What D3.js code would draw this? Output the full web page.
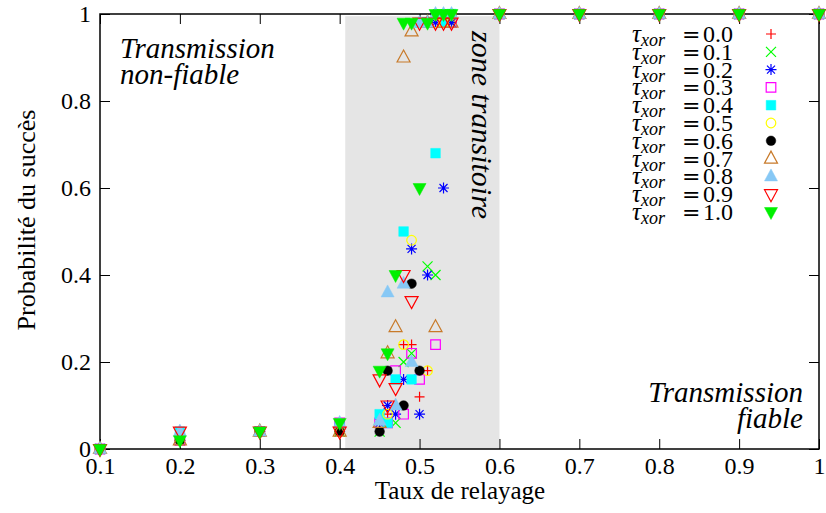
<!DOCTYPE html>
<html><head><meta charset="utf-8">
<script src="https://cdn.jsdelivr.net/npm/d3@7"></script>
<style>
html,body{margin:0;padding:0;background:#fff;}
svg{display:block;font-family:"Liberation Serif","Times New Roman",serif;}
</style></head><body>
<svg id="chart" width="826" height="513"></svg>
<script>
// ---------- data ----------
const relayRates = [0.1, 0.2, 0.3, 0.4, 0.45, 0.46, 0.47, 0.48, 0.49, 0.50, 0.51, 0.52, 0.53, 0.54, 0.6, 0.7, 0.8, 0.9, 1.0];
const tauLabels = ["0.0", "0.1", "0.2", "0.3", "0.4", "0.5", "0.6", "0.7", "0.8", "0.9", "1.0"];
const tau00 = [0, 0.02, 0.04, 0.04, 0.06, 0.08, 0.10, 0.24, 0.24, 0.12, 0.18, 0.98, 0.98, 0.98, 1, 1, 1, 1, 1];
const tau01 = [0, 0.02, 0.04, 0.04, 0.04, 0.06, 0.06, 0.20, 0.22, null, 0.42, 0.40, 0.98, 0.98, 1, 1, 1, 1, 1];
const tau02 = [0, 0.02, 0.04, 0.04, 0.06, 0.10, 0.08, 0.16, 0.46, 0.08, 0.40, 0.98, 0.60, 0.98, 1, 1, 1, 1, 1];
const tau03 = [0, 0.02, 0.04, 0.06, 0.06, 0.06, 0.18, 0.08, 0.22, 0.16, 0.98, 0.24, 0.98, 0.98, 1, 1, 1, 1, 1];
const tau04 = [0, 0.04, 0.04, 0.05, 0.08, 0.06, 0.16, 0.50, 0.16, 0.98, 0.98, 0.68, 0.98, 1.0, 1, 1, 1, 1, 1];
const tau05 = [0, 0.02, 0.04, 0.04, null, 0.08, null, 0.24, 0.48, null, 0.18, 0.98, 0.98, 1.0, 1, 1, 1, 1, 1];
const tau06 = [0, 0.02, 0.04, 0.04, 0.04, 0.18, null, 0.10, 0.38, 0.18, 0.98, 1.0, 1.0, 1.0, 1, 1, 1, 1, 1];
const tau07 = [0, 0.02, 0.04, 0.04, 0.06, 0.22, 0.28, 0.90, 0.96, null, 0.98, 0.28, 0.98, 0.98, 1, 1, 1, 1, 1];
const tau08 = [0, 0.04, 0.04, 0.06, 0.065, 0.36, 0.10, 0.38, 0.20, 0.98, 0.98, 1.0, 1.0, 1.0, 1, 1, 1, 1, 1];
const tau09 = [0, 0.04, 0.04, 0.04, 0.16, 0.10, 0.14, 0.40, 0.34, 0.98, null, 0.98, 0.98, 0.98, 1, 1, 1, 1, 1];
const tau10 = [0, 0.02, 0.04, 0.06, 0.18, 0.22, 0.40, 0.98, 0.98, 0.60, 0.98, 1.0, 1.0, 1.0, 1, 1, 1, 1, 1];
const xTicks = [0.1, 0.2, 0.3, 0.4, 0.5, 0.6, 0.7, 0.8, 0.9, 1.0];
const xTickLabels = ["0.1", "0.2", "0.3", "0.4", "0.5", "0.6", "0.7", "0.8", "0.9", "1"];
const yTicks = [0, 0.2, 0.4, 0.6, 0.8, 1];
const yTickLabels = ["0", "0.2", "0.4", "0.6", "0.8", "1"];
const transitionZone = [0.407, 0.6];

const seriesValues = [tau00, tau01, tau02, tau03, tau04, tau05, tau06, tau07, tau08, tau09, tau10];
const seriesColors = ["#ff0000", "#00ff00", "#0000ff", "#ff00ff", "#00ffff", "#ffff00", "#000000", "#c87a2a", "#87c8f5", "#ff0000", "#00f000"];
const seriesShapes = ["plus", "cross", "star", "square", "squareF", "circle", "circleF", "triUp", "triUpF", "triDown", "triDownF"];

// ---------- chart ----------
const svg = d3.select("#chart");
const L = 100, R = 819, T = 14, B = 449;
const x = d3.scaleLinear().domain([0.1, 1]).range([L, R]);
const y = d3.scaleLinear().domain([0, 1]).range([B, T]);

svg.append("rect").attr("width", 826).attr("height", 513).attr("fill", "#fff");

// transition zone
svg.append("rect")
  .attr("x", x(transitionZone[0])).attr("y", y(0.995))
  .attr("width", x(transitionZone[1]) - x(transitionZone[0]))
  .attr("height", y(0) - y(0.995))
  .attr("fill", "#e5e5e5");

function styleAxis(g) {
  g.select(".domain").remove();
  g.selectAll(".tick line").attr("stroke", "#000").attr("stroke-width", 1);
  g.selectAll(".tick text").attr("fill", "#000").attr("font-size", 24)
    .attr("font-family", "Liberation Serif, serif");
}
svg.append("g").attr("transform", `translate(0,${B})`)
  .call(d3.axisBottom(x).tickValues(xTicks).tickFormat((d, i) => xTickLabels[i])
    .tickSizeInner(-10).tickSizeOuter(0).tickPadding(8)).call(styleAxis);
svg.append("g").attr("transform", `translate(0,${T})`)
  .call(d3.axisTop(x).tickValues(xTicks).tickFormat("")
    .tickSizeInner(-10).tickSizeOuter(0)).call(styleAxis);
svg.append("g").attr("transform", `translate(${L},0)`)
  .call(d3.axisLeft(y).tickValues(yTicks).tickFormat((d, i) => yTickLabels[i])
    .tickSizeInner(-10).tickSizeOuter(0).tickPadding(9)).call(styleAxis);
svg.append("g").attr("transform", `translate(${R},0)`)
  .call(d3.axisRight(y).tickValues(yTicks).tickFormat("")
    .tickSizeInner(-10).tickSizeOuter(0)).call(styleAxis);

svg.append("rect").attr("x", L).attr("y", T).attr("width", R - L).attr("height", B - T)
  .attr("fill", "none").attr("stroke", "#000").attr("stroke-width", 1.5);

// axis titles
svg.append("text").attr("x", 460).attr("y", 499).attr("text-anchor", "middle")
  .attr("font-size", 25).text("Taux de relayage");
svg.append("text").attr("transform", "translate(35,220) rotate(-90)").attr("text-anchor", "middle")
  .attr("font-size", 26).text("Probabilité du succès");

// annotations
const ann = svg.append("g").attr("font-style", "italic").attr("font-size", 29);
ann.append("text").attr("x", 120).attr("y", 58).text("Transmission");
ann.append("text").attr("x", 120).attr("y", 84).text("non-fiable");
ann.append("text").attr("x", 803).attr("y", 402).attr("text-anchor", "end").text("Transmission");
ann.append("text").attr("x", 803).attr("y", 428).attr("text-anchor", "end").text("fiable");
ann.append("text").attr("transform", "translate(472,31) rotate(90)").attr("font-size", 30).text("zone transitoire");

// marker shapes
function shapePath(s) {
  switch (s) {
    case "plus": return "M-5,0H5M0,-5V5";
    case "cross": return "M-5,-5L5,5M-5,5L5,-5";
    case "star": return "M-5.5,0H5.5M0,-5.5V5.5M-4,-4L4,4M-4,4L4,-4";
    case "square": case "squareF": return "M-4.8,-4.8H4.8V4.8H-4.8Z";
    case "circle": case "circleF":
      return "M-4.8,0A4.8,4.8 0 1,0 4.8,0A4.8,4.8 0 1,0 -4.8,0Z";
    case "triUp": case "triUpF": return "M0,-7.5L6.5,4.5L-6.5,4.5Z";
    case "triDown": case "triDownF": return "M0,7.5L6.5,-4.5L-6.5,-4.5Z";
  }
}
function drawMarker(g, s, color) {
  const filled = s.endsWith("F");
  g.append("path").attr("d", shapePath(s))
    .attr("fill", filled ? color : "none")
    .attr("stroke", color).attr("stroke-width", filled ? 0.5 : 1.2);
}

// points
seriesValues.forEach((vals, si) => {
  const g = svg.append("g");
  const pts = relayRates.map((r, i) => ({ r, v: vals[i] })).filter(d => d.v !== null);
  pts.forEach(d => {
    const m = g.append("g").attr("transform", `translate(${x(d.r)},${y(d.v)})`);
    drawMarker(m, seriesShapes[si], seriesColors[si]);
  });
});

// legend
const leg = svg.append("g");
tauLabels.forEach((lab, i) => {
  const cy = 34 + i * 17.8;
  const base = cy + 8;
  const t = leg.append("text").attr("x", 632).attr("y", base).attr("font-size", 25);
  t.append("tspan").attr("font-style", "italic").text("τ");
  t.append("tspan").attr("font-style", "italic").attr("font-size", 18).attr("dy", 4).text("xor");
  t.append("tspan").attr("x", 682).attr("dy", -4).attr("font-family", "DejaVu Serif").attr("font-size", 22).text("=");
  t.append("tspan").attr("x", 703).attr("font-size", 24).text(lab);
  const m = leg.append("g").attr("transform", `translate(771,${cy})`);
  drawMarker(m, seriesShapes[i], seriesColors[i]);
});
</script>
</body></html>
